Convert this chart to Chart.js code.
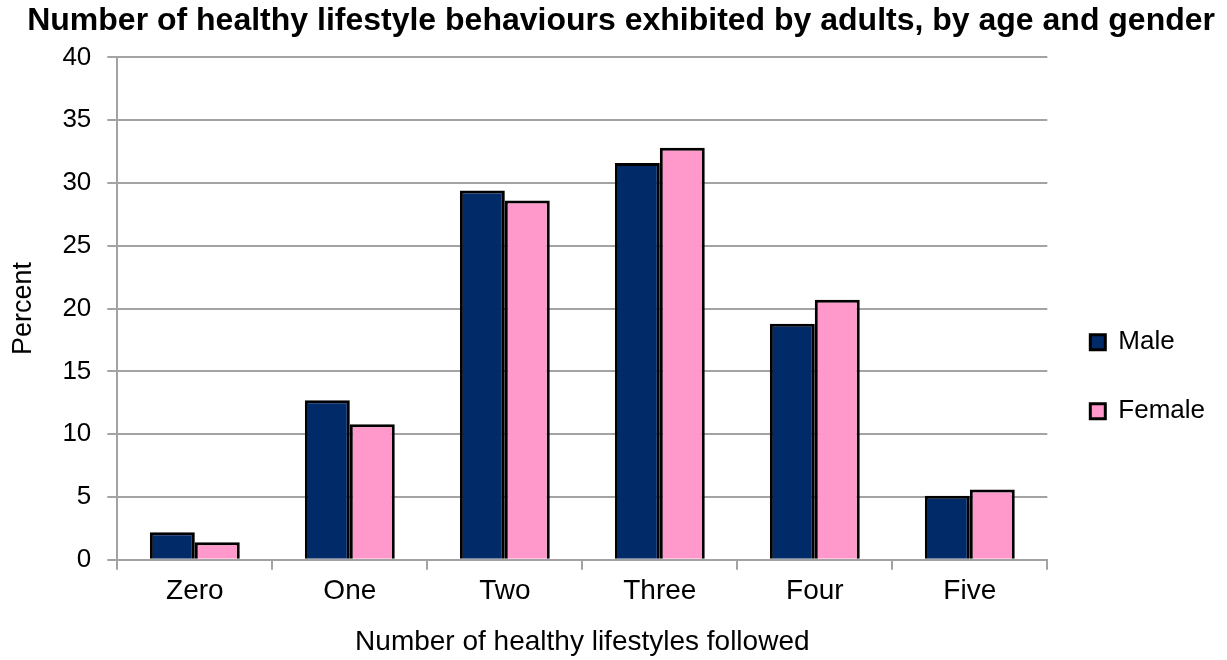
<!DOCTYPE html>
<html>
<head>
<meta charset="utf-8">
<script src="https://cdn.jsdelivr.net/npm/chart.js@4"></script>
<style>
  html, body { margin: 0; padding: 0; background: #ffffff; }
  #wrap { width: 1227px; height: 660px; }
</style>
</head>
<body>
<div id="wrap"><canvas id="chart"></canvas></div>
<script>
// Share of adults following N healthy lifestyle behaviours
var categories = ['Zero', 'One', 'Two', 'Three', 'Four', 'Five'];
var maleValues = [2.2, 12.7, 29.4, 31.6, 18.8, 5.1];
var femaleValues = [1.4, 10.8, 28.6, 32.8, 20.7, 5.6];
var yTicks = [0, 5, 10, 15, 20, 25, 30, 35, 40];

var fontFamily = '"Liberation Sans", Arial, Helvetica, sans-serif';
var gridGrey = '#a3a3a3';

Chart.defaults.font.family = fontFamily;
Chart.defaults.color = '#000000';

const data = {
    labels: categories,
    datasets: [{
        label: 'Male',
        backgroundColor: '#002a68',
        borderColor: '#000000',
        borderWidth: 3,
        data: maleValues
    }, {
        label: 'Female',
        backgroundColor: '#ff99cc',
        borderColor: '#000000',
        borderWidth: 3,
        data: femaleValues
    }]
};

const options = {
    responsive: true,
    maintainAspectRatio: false,
    animation: false,
    layout: {
        padding: { left: 4, right: 12, top: 0, bottom: 0 }
    },
    datasets: {
        bar: {
            barPercentage: 1.0,
            categoryPercentage: 0.58
        }
    },
    plugins: {
        title: {
            display: true,
            text: 'Number of healthy lifestyle behaviours exhibited by adults, by age and gender',
            align: 'end',
            color: '#000000',
            font: { size: 32, weight: 'bold' },
            padding: { top: 2, bottom: 17 }
        },
        legend: {
            position: 'right',
            // blank title only pushes the two items down the side
            title: {
                display: true,
                text: ' ',
                font: { size: 12 },
                padding: { top: 79, bottom: 0 }
            },
            labels: {
                boxWidth: 15,
                boxHeight: 15,
                padding: 43,
                color: '#000000',
                font: { size: 26 }
            }
        },
        tooltip: { enabled: false }
    },
    scales: {
        x: {
            grid: {
                drawOnChartArea: false,
                drawTicks: true,
                tickLength: 10,
                color: gridGrey,
                lineWidth: 2
            },
            border: { color: gridGrey, width: 2 },
            ticks: { font: { size: 28 }, color: '#000000', padding: 5 },
            title: {
                display: true,
                text: 'Number of healthy lifestyles followed',
                font: { size: 28 },
                color: '#000000',
                padding: { top: 12, bottom: 1 }
            }
        },
        y: {
            min: 0,
            max: 40,
            afterBuildTicks: function (axis) {
                axis.ticks = yTicks.map(function (v) { return { value: v }; });
            },
            grid: {
                color: gridGrey,
                lineWidth: 2,
                tickLength: 10
            },
            border: { color: gridGrey, width: 2 },
            ticks: { font: { size: 26 }, color: '#000000', padding: 16 },
            title: {
                display: true,
                text: 'Percent',
                font: { size: 27 },
                color: '#000000',
                padding: { top: 3, bottom: 7 }
            }
        }
    }
};

const ctx = document.getElementById('chart').getContext('2d');
const barChart = new Chart(ctx, {
    type: 'bar',
    data: data,
    options: options
});
</script>
</body>
</html>
